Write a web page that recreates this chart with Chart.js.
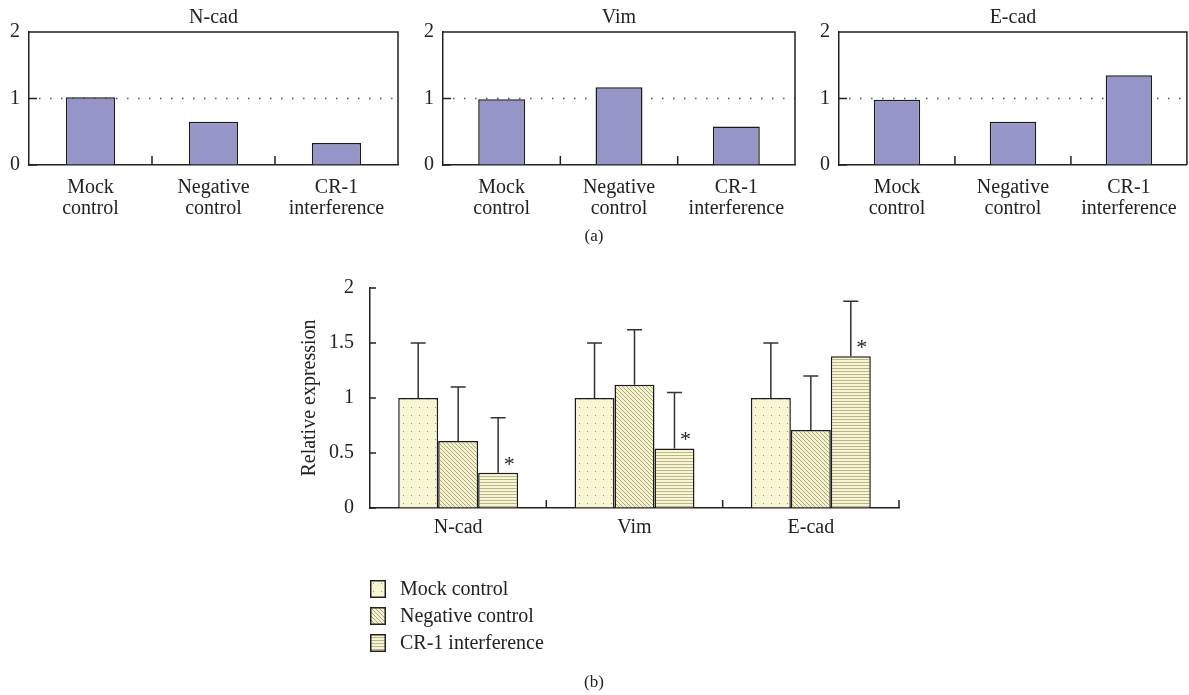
<!DOCTYPE html>
<html>
<head>
<meta charset="utf-8">
<script src="https://cdn.jsdelivr.net/npm/chart.js@4.4.0/dist/chart.umd.min.js"></script>
<style>
  body { margin: 0; background: #fff; width: 1189px; height: 695px; position: relative; overflow: hidden;
         font-family: "Liberation Serif", "DejaVu Serif", serif; color: #222; }
  canvas { position: absolute; }
  .cap { position: absolute; font-size: 17px; transform: translate(-50%, -50%); }
  .legend { position: absolute; left: 370px; top: 575px; }
  .legend .row { display: flex; align-items: center; height: 27px; font-size: 20px; }
  .legend canvas { position: static; margin-right: 14px; }
</style>
</head>
<body>
<canvas id="ncad" width="400" height="230" style="left:0;top:0"></canvas>
<canvas id="vim" width="400" height="230" style="left:400px;top:0"></canvas>
<canvas id="ecad" width="389" height="230" style="left:800px;top:0"></canvas>
<div class="cap" style="left:594px;top:236px">(a)</div>
<canvas id="main" width="640" height="280" style="left:280px;top:260px"></canvas>
<div class="legend" id="legend"></div>
<div class="cap" style="left:594px;top:682px">(b)</div>
<script>
// (a) single panels
const panelTitles = ['N-cad', 'Vim', 'E-cad'];
const groupLabels = [['Mock', 'control'], ['Negative', 'control'], ['CR-1', 'interference']];
const ncadVals = [1.02, 0.65, 0.33];
const vimVals = [0.99, 1.17, 0.58];
const ecadVals = [0.98, 0.65, 1.35];

// (b) grouped chart
const genes = ['N-cad', 'Vim', 'E-cad'];
const seriesNames = ['Mock control', 'Negative control', 'CR-1 interference'];
const mockMean = [1.0, 1.0, 1.0];
const negMean = [0.61, 1.12, 0.71];
const crMean = [0.32, 0.54, 1.38];
const mockSd = [0.5, 0.5, 0.5];
const negSd = [0.49, 0.5, 0.49];
const crSd = [0.5, 0.51, 0.5];
const crStars = ['*', '*', '*'];

const serif = '"Liberation Serif", "DejaVu Serif", serif';
Chart.defaults.color = '#222';
Chart.defaults.font.family = serif;

function makePattern(kind) {
  const c = document.createElement('canvas');
  const g = c.getContext('2d');
  if (kind === 'dots') {
    c.width = 8; c.height = 8;
    g.fillStyle = '#f8f6d2'; g.fillRect(0, 0, 8, 8);
    g.fillStyle = '#9a987c'; g.fillRect(3, 3, 1, 1);
  } else if (kind === 'diag') {
    c.width = 4; c.height = 4;
    g.fillStyle = '#f6f3cc'; g.fillRect(0, 0, 4, 4);
    g.fillStyle = '#a8a582';
    for (let i = 0; i < 4; i++) g.fillRect(i, i, 1, 1);
  } else {
    c.width = 4; c.height = 3;
    g.fillStyle = '#f8f6d2'; g.fillRect(0, 0, 4, 3);
    g.fillStyle = '#b9b58c'; g.fillRect(0, 0, 4, 1);
  }
  return c;
}
const tiles = [makePattern('dots'), makePattern('diag'), makePattern('hlines')];

// box, inner ticks and dotted reference line for the (a) panels
const panelDecor = {
  id: 'panelDecor',
  beforeDatasetsDraw(chart) {
    const {ctx, chartArea: a, scales: {y}} = chart;
    const yy = y.getPixelForValue(1);
    ctx.save();
    ctx.strokeStyle = '#555';
    ctx.lineWidth = 1.5;
    ctx.setLineDash([1.5, 9.5]);
    ctx.beginPath(); ctx.moveTo(a.left + 10, yy); ctx.lineTo(a.right, yy); ctx.stroke();
    ctx.restore();
  },
  afterDraw(chart) {
    const {ctx, chartArea: a, scales: {x, y}} = chart;
    ctx.save();
    ctx.strokeStyle = '#222';
    ctx.lineWidth = 1.5;
    ctx.beginPath();
    ctx.moveTo(a.left, a.top); ctx.lineTo(a.right, a.top); ctx.lineTo(a.right, a.bottom);
    y.ticks.forEach(t => {
      const p = y.getPixelForValue(t.value);
      ctx.moveTo(a.left, p); ctx.lineTo(a.left + 8, p);
    });
    for (let i = 0; i < x.ticks.length - 1; i++) {
      const p = (x.getPixelForValue(i) + x.getPixelForValue(i + 1)) / 2;
      ctx.moveTo(p, a.bottom); ctx.lineTo(p, a.bottom - 9);
    }
    ctx.stroke();
    ctx.restore();
  }
};

function makePanel(id, title, values, yWidth, padRight) {
  new Chart(document.getElementById(id), {
    type: 'bar',
    data: {
      labels: groupLabels,
      datasets: [{
        data: values,
        backgroundColor: '#9595c8',
        borderColor: '#1a1a1a',
        borderWidth: 1.5,
        barPercentage: 0.4,
        categoryPercentage: 1
      }]
    },
    options: {
      responsive: false,
      animation: false,
      events: [],
      layout: {padding: {top: 0, right: padRight, left: 0, bottom: 0}},
      plugins: {
        legend: {display: false},
        tooltip: {enabled: false},
        title: {display: true, text: title, fullSize: false, font: {size: 20, weight: 'normal'},
                padding: {top: 6, bottom: 2}, color: '#222'}
      },
      scales: {
        x: {
          grid: {display: true, drawOnChartArea: false, drawTicks: false},
          border: {color: '#222', width: 1.5},
          ticks: {font: {size: 20, lineHeight: 1.05}, padding: 12, maxRotation: 0, autoSkip: false},
          afterFit(s) { s.height = 65; }
        },
        y: {
          min: 0, max: 2,
          grid: {display: true, drawOnChartArea: false, drawTicks: false},
          border: {color: '#222', width: 1.5},
          ticks: {stepSize: 1, font: {size: 20}, padding: 9},
          afterFit(s) { s.width = yWidth; }
        }
      }
    },
    plugins: [panelDecor]
  });
}
makePanel('ncad', panelTitles[0], ncadVals, 29, 2);
makePanel('vim', panelTitles[1], vimVals, 43, 5);
makePanel('ecad', panelTitles[2], ecadVals, 39, 1);

// upper error bars, stars and inner ticks for (b)
const errorBars = {
  id: 'errorBars',
  afterDatasetsDraw(chart) {
    const {ctx, scales: {y}} = chart;
    ctx.save();
    ctx.strokeStyle = '#333';
    ctx.lineWidth = 1.5;
    chart.data.datasets.forEach((ds, di) => {
      const meta = chart.getDatasetMeta(di);
      meta.data.forEach((bar, i) => {
        const top = y.getPixelForValue(ds.data[i] + ds.sd[i]);
        ctx.beginPath();
        ctx.moveTo(bar.x, bar.y); ctx.lineTo(bar.x, top);
        ctx.moveTo(bar.x - 7.5, top); ctx.lineTo(bar.x + 7.5, top);
        ctx.stroke();
        if (ds.stars && ds.stars[i]) {
          ctx.fillStyle = '#222';
          ctx.font = '22px ' + serif;
          ctx.textAlign = 'center';
          ctx.textBaseline = 'middle';
          ctx.fillText(ds.stars[i], bar.x + 11, bar.y - 8);
        }
      });
    });
    ctx.restore();
  },
  afterDraw(chart) {
    const {ctx, chartArea: a, scales: {x, y}} = chart;
    ctx.save();
    ctx.strokeStyle = '#222';
    ctx.lineWidth = 1.5;
    ctx.beginPath();
    y.ticks.forEach(t => {
      const p = y.getPixelForValue(t.value);
      ctx.moveTo(a.left, p); ctx.lineTo(a.left + 6, p);
    });
    for (let i = 0; i < x.ticks.length; i++) {
      const p = i < x.ticks.length - 1 ? (x.getPixelForValue(i) + x.getPixelForValue(i + 1)) / 2 : a.right;
      ctx.moveTo(p, a.bottom); ctx.lineTo(p, a.bottom - 8);
    }
    ctx.stroke();
    ctx.restore();
  }
};

const mainCtx = document.getElementById('main').getContext('2d');
const fills = tiles.map(t => mainCtx.createPattern(t, 'repeat'));
new Chart(mainCtx, {
  type: 'bar',
  data: {
    labels: genes,
    datasets: [
      {label: seriesNames[0], data: mockMean, sd: mockSd, backgroundColor: fills[0]},
      {label: seriesNames[1], data: negMean, sd: negSd, backgroundColor: fills[1]},
      {label: seriesNames[2], data: crMean, sd: crSd, stars: crStars, backgroundColor: fills[2]}
    ]
  },
  options: {
    responsive: false,
    animation: false,
    events: [],
    layout: {padding: {top: 20, right: 21, left: 0, bottom: 0}},
    datasets: {bar: {categoryPercentage: 0.68, barPercentage: 1, borderColor: '#1a1a1a', borderWidth: 1.5}},
    plugins: {legend: {display: false}, tooltip: {enabled: false}},
    scales: {
      x: {
        grid: {display: true, drawOnChartArea: false, drawTicks: false},
        border: {color: '#222', width: 1.5},
        ticks: {font: {size: 20}, padding: 8},
        afterFit(s) { s.height = 32; }
      },
      y: {
        min: 0, max: 2,
        grid: {display: true, drawOnChartArea: false, drawTicks: false},
        border: {color: '#222', width: 1.5},
        ticks: {stepSize: 0.5, font: {size: 20}, padding: 16, callback: v => String(v)},
        title: {display: true, text: 'Relative expression', font: {size: 20}, padding: {top: 18, bottom: 0}},
        afterFit(s) { s.width = 90; }
      }
    }
  },
  plugins: [errorBars]
});

// legend
const legend = document.getElementById('legend');
seriesNames.forEach((name, i) => {
  const row = document.createElement('div');
  row.className = 'row';
  const sw = document.createElement('canvas');
  sw.width = 16; sw.height = 18;
  const g = sw.getContext('2d');
  g.fillStyle = g.createPattern(tiles[i], 'repeat');
  g.fillRect(0, 0, 16, 18);
  g.strokeStyle = '#222'; g.lineWidth = 1.5;
  g.strokeRect(0.75, 0.75, 14.5, 16.5);
  const label = document.createElement('span');
  label.textContent = name;
  row.appendChild(sw);
  row.appendChild(label);
  legend.appendChild(row);
});
</script>
</body>
</html>
